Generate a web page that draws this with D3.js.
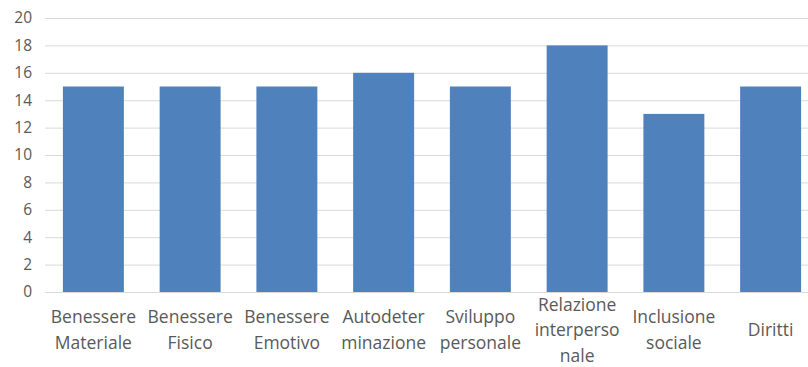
<!DOCTYPE html>
<html>
<head>
<meta charset="utf-8">
<script src="https://cdn.jsdelivr.net/npm/d3@7"></script>
<style>
  body { margin: 0; background: #fff; }
  text { font-family: "Open Sans", sans-serif; fill: #595959; }
</style>
</head>
<body>
<svg id="chart" width="808" height="367"></svg>
<script>
// categories, each split into the lines it is drawn on
const categories = [
    ["Benessere", "Materiale"],
    ["Benessere", "Fisico"],
    ["Benessere", "Emotivo"],
    ["Autodeter", "minazione"],
    ["Sviluppo", "personale"],
    ["Relazione", "interperso", "nale"],
    ["Inclusione", "sociale"],
    ["Diritti"]
];
const values = [15, 15, 15, 16, 15, 18, 13, 15];
const yTicks = [0, 2, 4, 6, 8, 10, 12, 14, 16, 18, 20];

const svg = d3.select('#chart');

let plotLeft = 45;
let plotRight = 819;
let plotTop = 18;
let plotBottom = 292;

let xscale = d3.scaleBand()
    .domain(d3.range(categories.length))
    .range([plotLeft, plotRight])
    .paddingInner(0.37)
    .paddingOuter(0.185);

let yscale = d3.scaleLinear()
    .domain([0, 20])
    .range([plotBottom, plotTop]);

// gridlines + y labels
let yaxis = d3.axisLeft(yscale)
    .tickValues(yTicks)
    .tickSize(-(plotRight - plotLeft))
    .tickPadding(13);

svg.append('g')
    .attr('transform', `translate(${plotLeft}, 0)`)
    .call(yaxis)
    .call(g => g.select('.domain').remove())
    .call(g => g.selectAll('line').attr('stroke', '#d9d9d9').attr('stroke-width', 1))
    .call(g => g.selectAll('text').style('font-size', '15.5px').attr('fill', '#595959'));

svg.selectAll('rect.bar')
    .data(values)
    .enter()
    .append('rect')
    .attr('class', 'bar')
    .attr('x', (d, i) => xscale(i))
    .attr('y', d => yscale(d))
    .attr('width', xscale.bandwidth())
    .attr('height', d => yscale(0) - yscale(d))
    .attr('fill', '#4f81bd');

// category labels, centred as a block under each bar
let lineHeight = 25.5;
let labelCenter = 330;

let labels = svg.selectAll('text.cat')
    .data(categories)
    .enter()
    .append('text')
    .attr('class', 'cat')
    .attr('text-anchor', 'middle')
    .style('font-size', '17.5px');

labels.each(function(lines, i) {
    let x = xscale(i) + xscale.bandwidth() / 2;
    let first = labelCenter - (lines.length - 1) * lineHeight / 2;
    d3.select(this).selectAll('tspan')
        .data(lines)
        .enter()
        .append('tspan')
        .attr('x', x)
        .attr('y', (d, j) => first + j * lineHeight)
        .attr('dy', '0.35em')
        .text(d => d);
});
</script>
</body>
</html>
